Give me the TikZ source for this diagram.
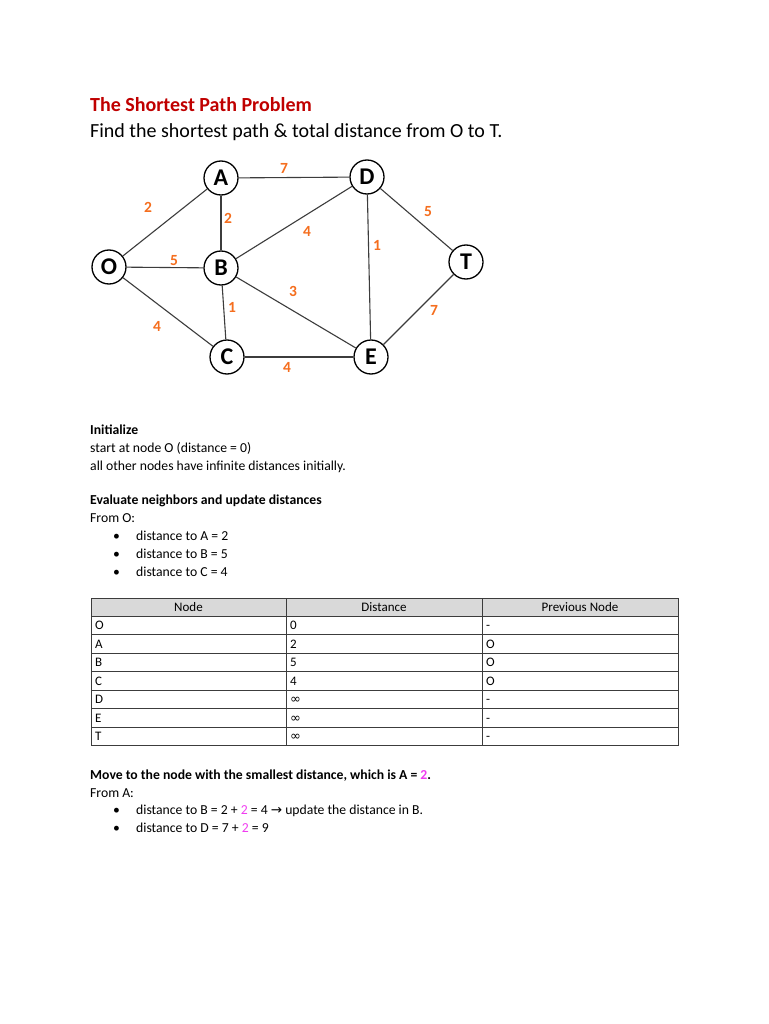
\documentclass[tikz,border=0pt]{standalone}
\usepackage{fontspec}
\setmainfont{Carlito}
\newfontfamily\symfont{DejaVu Sans}
\definecolor{titlered}{RGB}{192,0,0}
\definecolor{lblorange}{RGB}{245,110,30}
\definecolor{hilite}{RGB}{240,60,240}
\definecolor{edgegray}{RGB}{60,60,60}
\definecolor{hdrgray}{RGB}{217,217,217}
\begin{document}
\begin{tikzpicture}[x=1pt,y=-1pt,
  vtx/.style={circle,draw=black,line width=1.3pt,minimum size=34pt,inner sep=0pt,font=\fontsize{24}{24}\selectfont\bfseries},
  link/.style={draw=edgegray,line width=1.1pt},
  lbl/.style={text=lblorange,font=\fontsize{15.5}{15}\selectfont\bfseries,inner sep=0pt},
  txt/.style={anchor=base west,inner sep=0pt,font=\fontsize{13.7}{16}\selectfont},
  btxt/.style={txt,font=\fontsize{13.7}{16}\selectfont\bfseries},
  bul/.style={anchor=base west,inner sep=0pt,font=\fontsize{13.7}{16}\selectfont},
  cell/.style={anchor=base west,inner sep=0pt,font=\fontsize{13}{15}\selectfont},
  hcell/.style={anchor=base,inner sep=0pt,font=\fontsize{13}{15}\selectfont},
  tline/.style={draw=edgegray,line width=0.8pt}
]
\useasboundingbox[fill=white] (0,0) rectangle (768,1024);

% title
\node[anchor=base west,inner sep=0pt,text=titlered,font=\fontsize{20}{22}\selectfont\bfseries] (title) at (90,112) {The Shortest Path Problem};
\node[anchor=base west,inner sep=0pt,font=\fontsize{20}{22}\selectfont] (sub) at (90,138) {Find the shortest path \& total distance from O to T.};

% graph
\node[vtx] (A) at (221,178) {A};
\node[vtx] (D) at (367,177) {D};
\node[vtx] (O) at (109,267) {O};
\node[vtx] (B) at (221,268) {B};
\node[vtx] (T) at (466,262) {T};
\node[vtx] (C) at (227,357) {C};
\node[vtx] (E) at (371,357) {E};

\draw[link] (O) -- (A);
\draw[link] (A) -- (D);
\draw[link] (A) -- (B);
\draw[link] (B) -- (D);
\draw[link] (D) -- (E);
\draw[link] (D) -- (T);
\draw[link] (O) -- (B);
\draw[link] (B) -- (E);
\draw[link] (B) -- (C);
\draw[link] (O) -- (C);
\draw[link] (E) -- (T);
\draw[link] (C) -- (E);

\node[lbl] (lOA) at (148,207) {2};
\node[lbl] (lAD) at (284,168) {7};
\node[lbl] (lAB) at (228,218) {2};
\node[lbl] (lBD) at (307,231) {4};
\node[lbl] (lDE) at (377,245) {1};
\node[lbl] (lDT) at (428,212) {5};
\node[lbl] (lOB) at (174,261) {5};
\node[lbl] (lBE) at (293,291) {3};
\node[lbl] (lBC) at (232,307) {1};
\node[lbl] (lOC) at (157,326) {4};
\node[lbl] (lET) at (434,310) {7};
\node[lbl] (lCE) at (287,367) {4};

% initialize block
\node[btxt] (t1) at (90,434) {Initialize};
\node[txt] (t2) at (90,452) {start at node O (distance = 0)};
\node[txt] (t3) at (90,470) {all other nodes have infinite distances initially.};
\node[btxt] (t4) at (90,504) {Evaluate neighbors and update distances};
\node[txt] (t5) at (90,522) {From O:};
\node[bul] (b1) at (113,540) {•};
\node[txt] (t6) at (136,540) {distance to A = 2};
\node[bul] (b2) at (113,558) {•};
\node[txt] (t7) at (136,558) {distance to B = 5};
\node[bul] (b3) at (113,576) {•};
\node[txt] (t8) at (136,576) {distance to C = 4};

% table
\fill[hdrgray] (91,598) rectangle (678,616);
\foreach \y in {598,616,634.5,653,671.5,690,708.5,727,745.5} {
  \draw[tline] (91,\y) -- (678,\y);
}
\foreach \x in {91,286,482,678} {
  \draw[tline] (\x,598) -- (\x,745.5);
}
\node[hcell] (h1) at (188.5,611) {Node};
\node[hcell] (h2) at (384,611) {Distance};
\node[hcell] (h3) at (580,611) {Previous Node};

\foreach \n/\d/\p [count=\i] in {O/0/-,A/2/O,B/5/O,C/4/O,D/{\symfont ∞}/-,E/{\symfont ∞}/-,T/{\symfont ∞}/-} {
  \node[cell] (r\i a) at (95,611+18.5*\i) {\n};
  \node[cell] (r\i b) at (290,611+18.5*\i) {\d};
  \node[cell] (r\i c) at (486,611+18.5*\i) {\p};
}

% final block
\node[btxt] (f1) at (90,779) {Move to the node with the smallest distance, which is A = \textcolor{hilite}{2}.};
\node[txt] (f2) at (90,797) {From A:};
\node[bul] (b4) at (113,814) {•};
\node[txt] (f3) at (136,814) {distance to B = 2 + \textcolor{hilite}{2} = 4 {\symfont\fontsize{13.5}{14}\selectfont →} update the distance in B.};
\node[bul] (b5) at (113,832) {•};
\node[txt] (f4) at (136,832) {distance to D = 7 + \textcolor{hilite}{2} = 9};
\end{tikzpicture}
\end{document}
